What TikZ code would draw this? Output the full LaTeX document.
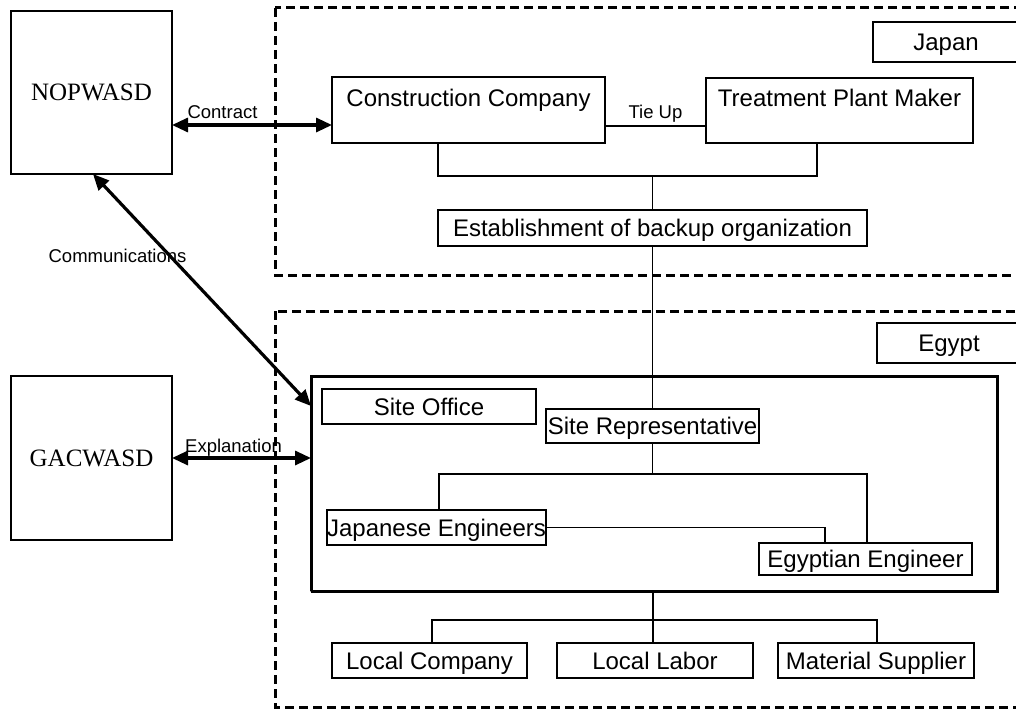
\documentclass[tikz,border=0pt]{standalone}
\usepackage{fontspec}
\setmainfont{Liberation Serif}
\setsansfont{Liberation Sans}
\usetikzlibrary{arrows.meta,calc}
\begin{document}
\begin{tikzpicture}[x=1pt,y=-1pt,
  box/.style={draw, line width=1.7pt, inner sep=0pt, outer sep=0pt,
    font=\sffamily\fontsize{24pt}{28pt}\selectfont, text height=17pt, text depth=0pt},
  topbox/.style={box, text height=18pt, text depth=26pt},
  orgbox/.style={draw, line width=1.7pt, inner sep=0pt, outer sep=0pt,
    font=\rmfamily\fontsize{25pt}{29pt}\selectfont, text height=16.5pt, text depth=0pt},
  region/.style={draw, line width=3pt, dash pattern=on 9pt off 5pt},
  sitebox/.style={draw, line width=3pt, dash pattern=on 1.6pt off 0.4pt, inner sep=0pt, outer sep=0pt},
  conn/.style={line width=1.6pt},
  dbl/.style={line width=3.2pt, {Triangle[length=16pt,width=14pt]}-{Triangle[length=16pt,width=14pt]}},
  lab/.style={font=\sffamily\fontsize{18.5pt}{22pt}\selectfont, inner sep=0pt, anchor=base}
]
\useasboundingbox (0,0) rectangle (1016,709);

% regions
\draw[region] (275,8) rectangle (1040,275);
\draw[region] (275,311) rectangle (1040,707);

% left organisations
\node[orgbox, minimum width=161pt, minimum height=163pt] (nop) at (91.5,92.5) {NOPWASD};
\node[orgbox, minimum width=161pt, minimum height=164pt] (gac) at (91.5,458) {GACWASD};

% Japan
\node[box, minimum width=146pt, minimum height=40pt] (japan) at (946,42) {Japan};
\node[topbox, minimum width=273pt, minimum height=66pt] (cc) at (468.5,110) {Construction Company};
\node[topbox, minimum width=267pt, minimum height=65pt] (tpm) at (839.5,110.5) {Treatment Plant Maker};
\node[box, minimum width=429pt, minimum height=36pt] (est) at (652.5,228) {Establishment of backup organization};

% Egypt
\node[box, minimum width=144pt, minimum height=40pt] (egypt) at (949,343) {Egypt};
\node[sitebox, minimum width=686pt, minimum height=215pt] (site) at (654,483.5) {};
\node[box, minimum width=214pt, minimum height=35pt] (so) at (429,406.5) {Site Office};
\node[box, minimum width=213pt, minimum height=34pt] (sr) at (652.5,426) {Site Representative};
\node[box, minimum width=215pt, minimum height=35pt] (je) at (436.5,527.5) {Japanese Engineers};
\node[box, minimum width=213pt, minimum height=32pt] (ee) at (865.5,559) {Egyptian Engineer};
\node[box, minimum width=195pt, minimum height=35pt] (lc) at (429.5,660.5) {Local Company};
\node[box, minimum width=196pt, minimum height=35pt] (ll) at (655,660.5) {Local Labor};
\node[box, minimum width=196pt, minimum height=35pt] (ms) at (876,660.5) {Material Supplier};

% junctions
\coordinate (j1) at (652.5,176);
\coordinate (j2) at (652.5,474);
\coordinate (j3) at (653,620);

% Japan connectors
\draw[conn] ([yshift=-16pt]cc.east) -- ([yshift=-16pt]cc.east -| tpm.west)
  node[lab, midway, yshift=8pt] {Tie Up};
\draw[conn] (est.west |- cc.south) -- (est.west |- j1) -- ([xshift=-22.5pt]tpm.south |- j1) -- ([xshift=-22.5pt]tpm.south);
\draw[conn] (j1) -- (est.north);
\draw[conn] (est.south) -- (sr.north);

% Egypt connectors
\draw[conn] (sr.south) -- (j2);
\draw[conn] ([xshift=2.5pt]je.north) |- (j2) -| ([xshift=1.5pt]ee.north);
\draw[conn] (je.east) -| ([xshift=-40.5pt]ee.north);
\draw[conn] (j3 |- site.south) -- (j3 |- ll.north);
\draw[conn] ([xshift=2.5pt]lc.north) |- (j3) -| ([xshift=1pt]ms.north);

% arrows
\draw[dbl] ([yshift=-32.5pt]nop.east) -- ([yshift=-32.5pt]nop.east -| cc.west);
\node[lab] (contract) at (222.5,118) {Contract};
\draw[dbl] ([xshift=1.5pt]nop.south) -- ([yshift=77.5pt]site.west);
\node[lab] (comm) at (117.5,262) {Communications};
\draw[dbl] (gac.east) -- (gac.east -| site.west);
\node[lab] (expl) at (233.5,452) {Explanation};
\end{tikzpicture}
\end{document}
